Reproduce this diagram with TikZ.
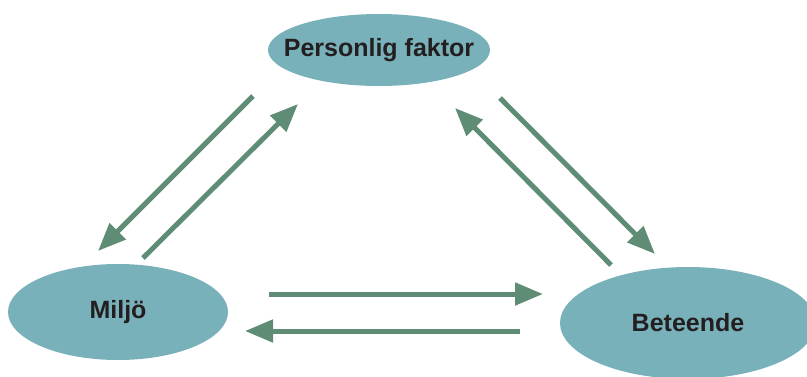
\documentclass[tikz,border=0pt]{standalone}
\usepackage{fontspec}
\setmainfont{Liberation Sans}
\usetikzlibrary{shapes.geometric,arrows.meta}
\definecolor{ellfill}{RGB}{120,177,186}
\definecolor{arrowgreen}{RGB}{94,140,116}
\definecolor{txt}{RGB}{35,31,32}
\tikzset{
  factor/.style={ellipse, fill=ellfill, draw=none, inner sep=0pt},
  factorlabel/.style={text=txt, inner sep=0pt, font=\fontsize{25}{30}\selectfont\bfseries},
  flow/.style={draw=arrowgreen, line width=5pt,
    -{Triangle[length=28pt,width=22pt]}}
}
\begin{document}
\begin{tikzpicture}[x=1pt,y=-1pt]
\useasboundingbox (0,0) rectangle (807,376);
\node[factor, minimum width=222pt, minimum height=72pt] (P) at (379,50) {};
\node[factorlabel] (Pt) at (P.center) {Personlig faktor};
\node[factor, minimum width=220pt, minimum height=96pt] (M) at (118,312) {};
\node[factorlabel] (Mt) at (M.center) {Miljö};
\node[factor, minimum width=256pt, minimum height=112pt] (B) at (688,323) {};
\node[factorlabel] (Bt) at (B.center) {Beteende};
% arrow end points
\coordinate (pm1) at (253,96);  \coordinate (pm2) at (98,251);
\coordinate (mp1) at (143,258); \coordinate (mp2) at (298,104);
\coordinate (pb1) at (500,98);  \coordinate (pb2) at (655,254);
\coordinate (bp1) at (611,265); \coordinate (bp2) at (455,108);
\coordinate (mb1) at (269,294); \coordinate (mb2) at (543,294);
\coordinate (bm1) at (520,331); \coordinate (bm2) at (245,331);
\draw[flow] (pm1) -- (pm2);
\draw[flow] (mp1) -- (mp2);
\draw[flow] (pb1) -- (pb2);
\draw[flow] (bp1) -- (bp2);
\draw[flow] (mb1) -- (mb2);
\draw[flow] (bm1) -- (bm2);
\end{tikzpicture}
\end{document}
